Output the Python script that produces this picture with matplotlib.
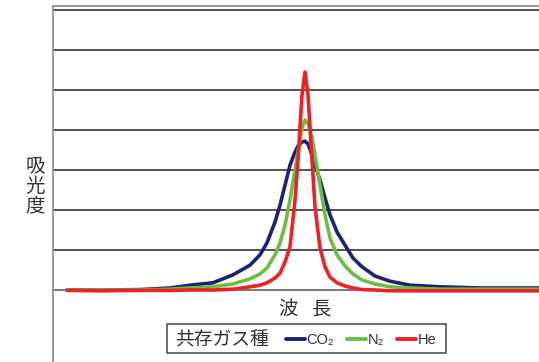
import matplotlib
matplotlib.use("Agg")
import matplotlib.pyplot as plt
from matplotlib.patches import Rectangle
from matplotlib import font_manager

# ---- data (wavelength: arbitrary units, absorbance: arbitrary units) ----
wavelength = [14, 47, 87, 117, 137, 160, 180, 197, 207, 214, 222, 227, 232, 237,
              242, 245, 249, 252, 255, 259, 262, 267, 272, 277, 284, 292, 300,
              309, 322, 337, 357, 387, 427, 486]
co2 = [0, 0, 0.01, 0.05, 0.12, 0.18, 0.38, 0.62, 0.88, 1.18, 1.70, 2.12, 2.62, 3.12,
       3.45, 3.60, 3.70, 3.72, 3.65, 3.38, 3.12, 2.75, 2.30, 1.88, 1.45, 1.12, 0.80,
       0.58, 0.35, 0.22, 0.12, 0.08, 0.05, 0.05]
n2 = [0, 0, 0, 0.02, 0.05, 0.08, 0.15, 0.28, 0.40, 0.55, 0.88, 1.18, 1.62, 2.25,
      3.00, 3.45, 4.05, 4.25, 4.15, 3.82, 3.38, 2.62, 1.88, 1.30, 0.88, 0.60, 0.40,
      0.25, 0.15, 0.08, 0.05, 0.02, 0.02, 0.02]
he = [-0.01, -0.02, -0.01, -0.01, 0, 0, 0.02, 0.08, 0.12, 0.18, 0.30, 0.42, 0.70, 1.08,
      2.25, 3.25, 4.88, 5.45, 4.88, 3.25, 2.08, 1.05, 0.58, 0.32, 0.18, 0.10, 0.05,
      0.01, 0, -0.02, -0.02, -0.02, -0.02, -0.02]
series_labels = ["CO\u2082", "N\u2082", "He"]
colors = ["#1c2470", "#6dbd45", "#ee2124"]
grid_levels = [0, 1, 2, 3, 4, 5, 6, 7]

cjk = ["Noto Sans CJK JP", "DejaVu Sans"]
names = {f.name for f in font_manager.fontManager.ttflist}
narrow = ["Liberation Sans Narrow", "DejaVu Sans"] if "Liberation Sans Narrow" in names else ["Liberation Sans", "DejaVu Sans"]

W, H = 539, 362
fig = plt.figure(figsize=(W / 100, H / 100), dpi=100)
fig.patch.set_facecolor("white")

ax = fig.add_axes([53 / W, 0, 1 - 53 / W, (H - 6) / H])
ax.set_xlim(0, 486)
ax.set_ylim(-1.8, 7.1)

for g in grid_levels:
    ax.axhline(g, color="#222222" if g > 0 else "#555555", lw=1.1, zorder=1)

for ys, c, lab in zip([co2, n2, he], colors, series_labels):
    ax.plot(wavelength, ys, color=c, lw=2.6, label=lab, zorder=3,
            solid_joinstyle="round", solid_capstyle="round")

ax.set_xticks([])
ax.set_yticks([])
for s in ["right", "bottom"]:
    ax.spines[s].set_visible(False)
for s in ["left", "top"]:
    ax.spines[s].set_color("#888888")
    ax.spines[s].set_linewidth(1.2)

# axis labels
fig.text(288 / W, 1 - 309 / H, "波", family=cjk, fontsize=14,
         ha="center", va="center", color="#333333")
fig.text(322 / W, 1 - 309 / H, "長", family=cjk, fontsize=14,
         ha="center", va="center", color="#333333")
fig.text(35 / W, 1 - 186 / H, "吸\n光\n度", family=cjk, fontsize=14,
         ha="center", va="center", color="#333333", linespacing=0.95)

# legend box
fig.add_artist(Rectangle((167 / W, 1 - 353 / H), (446 - 167) / W, (353 - 324) / H,
                         transform=fig.transFigure, facecolor="white",
                         edgecolor="#444444", lw=1.1, zorder=5))
fig.text(175 / W, 1 - 340 / H, "共存ガス種", family=cjk, fontsize=13.5,
         ha="left", va="center", color="#333333", zorder=6)
leg = fig.legend(loc="center left", bbox_to_anchor=(286 / W, 1 - 340 / H),
                 ncol=3, frameon=False, handlelength=1.3, handletextpad=0.1,
                 columnspacing=0.9, borderpad=0, borderaxespad=0,
                 prop={"family": narrow, "size": 10.5})
leg.set_zorder(7)
for t in leg.get_texts():
    t.set_color("#333333")
for h in leg.legend_handles:
    h.set_linewidth(2.8)

fig.savefig("out.png", dpi=100)
